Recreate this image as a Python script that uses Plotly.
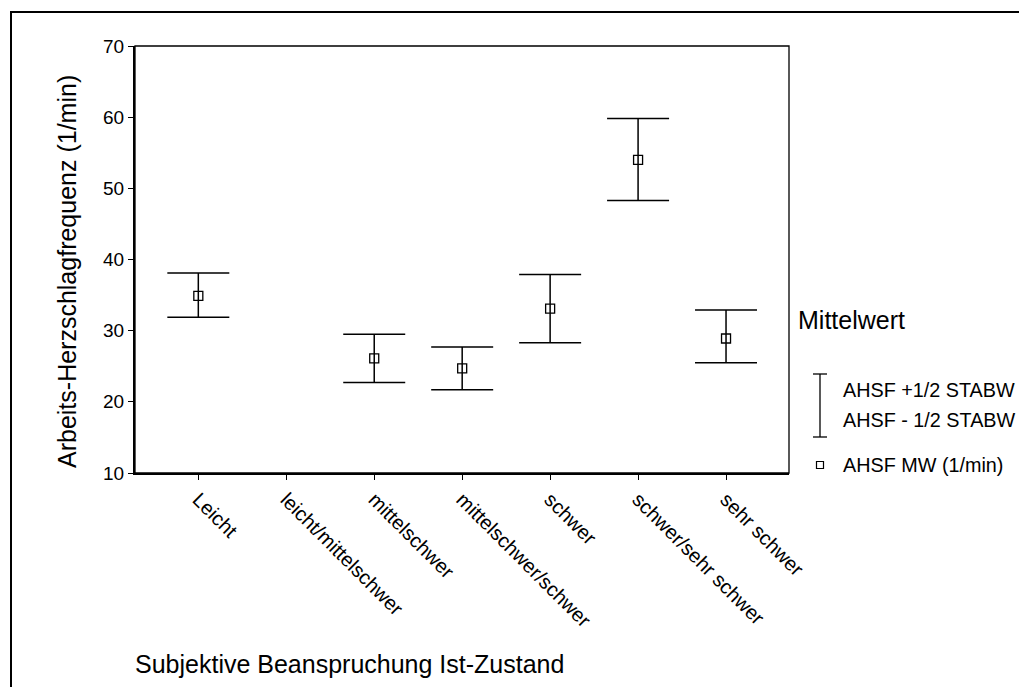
import plotly.graph_objects as go

categories = ["Leicht", "leicht/mittelschwer", "mittelschwer", "mittelschwer/schwer",
              "schwer", "schwer/sehr schwer", "sehr schwer"]
mean_values = [34.9, None, 26.1, 24.7, 33.1, 54.0, 28.9]
upper_values = [38.1, None, 29.5, 27.7, 37.9, 59.8, 32.9]
lower_values = [31.9, None, 22.7, 21.7, 28.3, 48.3, 25.5]
y_ticks = [10, 20, 30, 40, 50, 60, 70]

legend_title = "Mittelwert"
legend_labels = ["AHSF +1/2 STABW", "AHSF - 1/2 STABW", "AHSF MW (1/min)"]
x_title = "Subjektive Beanspruchung Ist-Zustand"
y_title = "Arbeits-Herzschlagfrequenz (1/min)"

FONT = "Liberation Sans, Arial, sans-serif"
W, H = 1019, 687
# plot area in page pixels
L, R, T, B = 135, 789, 46, 473


def px(x):
    return (x - L) / (R - L)


def py(y):
    return (B - y) / (B - T)


err_plus = [(u - m) if m is not None else 0 for u, m in zip(upper_values, mean_values)]
err_minus = [(m - l) if m is not None else 0 for l, m in zip(lower_values, mean_values)]

fig = go.Figure()
fig.add_trace(go.Scatter(
    x=categories,
    y=mean_values,
    mode="markers",
    marker=dict(symbol="square-open", size=9, color="black", line=dict(width=1.3, color="black")),
    error_y=dict(type="data", symmetric=False, array=err_plus, arrayminus=err_minus,
                 color="black", thickness=1.5, width=31),
    showlegend=False,
    hoverinfo="skip",
))

fig.update_layout(
    width=W, height=H, autosize=False,
    margin=dict(l=L, r=W - R, t=T, b=H - B, pad=0),
    paper_bgcolor="white", plot_bgcolor="white",
    font=dict(family=FONT, color="black"),
    xaxis=dict(type="category", categoryorder="array", categoryarray=categories,
               range=[-0.72, 6.716], showline=True, linewidth=2, linecolor="black",
               ticks="outside", ticklen=5, tickwidth=1, tickcolor="black",
               tickangle=45, tickfont=dict(size=20), showgrid=False, zeroline=False),
    yaxis=dict(range=[10, 70], tickvals=y_ticks, showline=True, linewidth=2, linecolor="black",
               ticks="outside", ticklen=5, tickwidth=1, tickcolor="black",
               tickfont=dict(size=19), showgrid=False, zeroline=False),
    showlegend=False,
)

shapes = [
    # plot frame (thin top/right)
    dict(type="rect", xref="paper", yref="paper", x0=0, x1=1, y0=0, y1=1,
         line=dict(color="black", width=1.3)),
    # outer frame
    dict(type="rect", xref="paper", yref="paper", x0=px(11), x1=px(1200), y0=py(900), y1=py(12),
         line=dict(color="black", width=2)),
    # legend error bar icon
    dict(type="line", xref="paper", yref="paper", x0=px(820), x1=px(820), y0=py(374), y1=py(437),
         line=dict(color="black", width=1.3)),
    dict(type="line", xref="paper", yref="paper", x0=px(813), x1=px(827), y0=py(374), y1=py(374),
         line=dict(color="black", width=1.3)),
    dict(type="line", xref="paper", yref="paper", x0=px(813), x1=px(827), y0=py(437), y1=py(437),
         line=dict(color="black", width=1.3)),
    # legend square marker
    dict(type="rect", xref="paper", yref="paper", x0=px(816.5), x1=px(823.5), y0=py(468.5), y1=py(461.5),
         line=dict(color="black", width=1.2)),
]
fig.update_layout(shapes=shapes)

annotations = [
    dict(text=y_title, xref="paper", yref="paper", x=px(67), y=py(272), textangle=-90,
         xanchor="center", yanchor="middle", showarrow=False, font=dict(size=25)),
    dict(text=x_title, xref="paper", yref="paper", x=px(133), y=py(664),
         xanchor="left", yanchor="middle", showarrow=False, font=dict(size=25)),
    dict(text=legend_title, xref="paper", yref="paper", x=px(796), y=py(320),
         xanchor="left", yanchor="middle", showarrow=False, font=dict(size=25)),
    dict(text=legend_labels[0], xref="paper", yref="paper", x=px(841), y=py(390),
         xanchor="left", yanchor="middle", showarrow=False, font=dict(size=19.8)),
    dict(text=legend_labels[1], xref="paper", yref="paper", x=px(841), y=py(420),
         xanchor="left", yanchor="middle", showarrow=False, font=dict(size=19.8)),
    dict(text=legend_labels[2], xref="paper", yref="paper", x=px(841), y=py(465),
         xanchor="left", yanchor="middle", showarrow=False, font=dict(size=19.8)),
]
fig.update_layout(annotations=annotations)

fig.write_html(
    "out.html",
    config={"displayModeBar": False, "staticPlot": True},
    post_script="document.body.style.margin='0px';document.body.style.overflow='hidden';",
)
